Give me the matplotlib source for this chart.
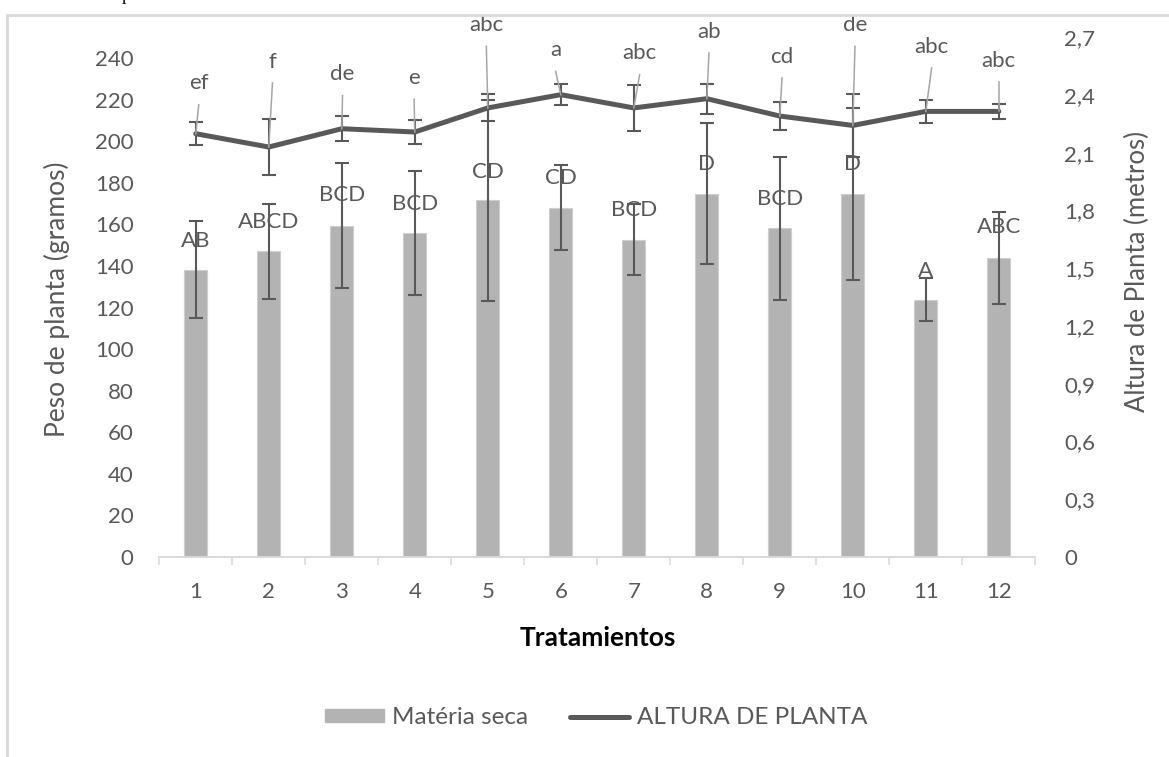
import numpy as np
import matplotlib
matplotlib.use('Agg')
from matplotlib import pyplot as plt
from matplotlib.patches import Patch, Rectangle
from matplotlib.lines import Line2D

# datos
tratamientos = [1, 2, 3, 4, 5, 6, 7, 8, 9, 10, 11, 12]
materia_seca = [138.2, 147.1, 159.4, 155.9, 171.5, 168.1, 152.7, 174.7, 158.2, 174.7, 123.7, 143.7]
materia_err = [23.3, 22.8, 30.0, 29.8, 48.3, 20.4, 17.0, 33.9, 34.4, 41.5, 10.4, 22.1]
altura = [2.199, 2.130, 2.225, 2.208, 2.333, 2.402, 2.333, 2.381, 2.291, 2.242, 2.315, 2.315]
altura_err = [0.061, 0.143, 0.065, 0.063, 0.070, 0.053, 0.119, 0.078, 0.072, 0.165, 0.059, 0.040]
letras_ms = ['AB', 'ABCD', 'BCD', 'BCD', 'CD', 'CD', 'BCD', 'D', 'BCD', 'D', 'A', 'ABC']
letras_alt = ['ef', 'f', 'de', 'e', 'abc', 'a', 'abc', 'ab', 'cd', 'de', 'abc', 'abc']

# donde quedaron las etiquetas (movidas a mano en el original)
y_etiq_ms = [152.2, 161.3, 173.9, 169.9, 185.2, 182.3, 167.1, 188.9, 172.3, 189.2, 137.7, 158.6]
x_etiq_alt = [1.04, 2.05, 3.01, 3.99, 4.98, 5.93, 7.08, 8.03, 9.03, 10.03, 11.08, 12.0]
y_etiq_alt = [2.460, 2.573, 2.507, 2.489, 2.763, 2.633, 2.616, 2.729, 2.599, 2.763, 2.651, 2.576]

W, H = 1169, 757
gris_txt = '#595959'
gris_eje = '#d9d9d9'
plt.rcParams['font.family'] = ['Lato', 'DejaVu Sans']

fig = plt.figure(figsize=(W / 100, H / 100), dpi=100)
ax = fig.add_axes([159.3 / W, 1 - 557 / H, 876 / W, 519.7 / H])
ax2 = ax.twinx()

x = np.array(tratamientos)
ax.bar(x, materia_seca, width=0.32, color='#b3b3b3', edgecolor='#cfcfcf', linewidth=0.8, zorder=2)
ax.errorbar(x, materia_seca, yerr=materia_err, fmt='none', ecolor=gris_txt,
            elinewidth=1.5, capsize=4.7, capthick=1.5, zorder=3)
for xi, yi, t in zip(x, y_etiq_ms, letras_ms):
    ax.text(xi, yi, t, ha='center', va='center', fontsize=16, color=gris_txt, zorder=5)

ax2.plot(x, altura, color=gris_txt, lw=3.6, solid_capstyle='round', zorder=2)
ax2.errorbar(x, altura, yerr=altura_err, fmt='none', ecolor=gris_txt,
             elinewidth=1.5, capsize=4.7, capthick=1.5, zorder=3)
for i in range(len(x)):
    ax2.plot([x_etiq_alt[i], x[i]], [y_etiq_alt[i] - 0.11, altura[i]],
             color='#a6a6a6', lw=1.1, zorder=4)
    ax2.text(x_etiq_alt[i], y_etiq_alt[i], letras_alt[i], ha='center', va='center',
             fontsize=16, color=gris_txt, zorder=5)

ax.set_xlim(0.5, 12.5)
ax.set_ylim(0, 250)
ax2.set_ylim(0, 2.7)

ax.set_xticks(x)
ax.set_xticklabels([str(t) for t in tratamientos])
ax.set_xticks(np.arange(0.5, 13, 1), minor=True)
ax.tick_params(axis='x', which='major', length=0, pad=18, labelsize=16, labelcolor=gris_txt)
ax.tick_params(axis='x', which='minor', length=6, width=1.1, color=gris_eje, direction='out')

ax.set_yticks(np.arange(0, 241, 20))
ax.tick_params(axis='y', length=0, pad=18.5, labelsize=16, labelcolor=gris_txt)
ticks_alt = np.arange(0, 2.71, 0.3)
ax2.set_yticks(ticks_alt)
ax2.set_yticklabels(['0'] + [('%.1f' % v).replace('.', ',') for v in ticks_alt[1:]])
ax2.tick_params(axis='y', length=0, pad=21, labelsize=16, labelcolor=gris_txt)

for a in (ax, ax2):
    for s in ('top', 'left', 'right'):
        a.spines[s].set_visible(False)
    a.spines['bottom'].set_color(gris_eje)
    a.spines['bottom'].set_linewidth(1.1)
    a.patch.set_visible(False)

fig.text(57 / W, 1 - 299 / H, 'Peso de planta (gramos)', rotation=90, ha='center', va='center',
         fontsize=19, color=gris_txt)
fig.text(1137 / W, 1 - 272 / H, 'Altura de Planta (metros)', rotation=90, ha='center', va='center',
         fontsize=18.5, color=gris_txt)
fig.text(598 / W, 1 - 638 / H, 'Tratamientos', ha='center', va='center', fontsize=19,
         fontweight='bold', color='black')

handles = [Patch(facecolor='#b3b3b3', edgecolor='#b3b3b3'),
           Line2D([0], [0], color=gris_txt, lw=3.6, solid_capstyle='round')]
fig.legend(handles, ['Matéria seca', 'ALTURA DE PLANTA'], loc='center',
           bbox_to_anchor=(596 / W, 1 - 718 / H), ncol=2, frameon=False, fontsize=17.5,
           labelcolor=gris_txt, handlelength=2.45, handleheight=0.44, handletextpad=0.33,
           columnspacing=1.7)

# borde del area del grafico (recortado en la imagen)
fig.patches.append(Rectangle((7 / W, -0.1), 1.2, 1.1 - 15 / H, fill=False,
                             edgecolor=gris_eje, lw=2, transform=fig.transFigure))
# resto de texto del documento, cortado arriba
fig.text(122 / W, 1.0, 'p', ha='left', va='baseline', fontsize=13,
         family='Liberation Serif', color='black')

fig.savefig('out.png', dpi=100)
